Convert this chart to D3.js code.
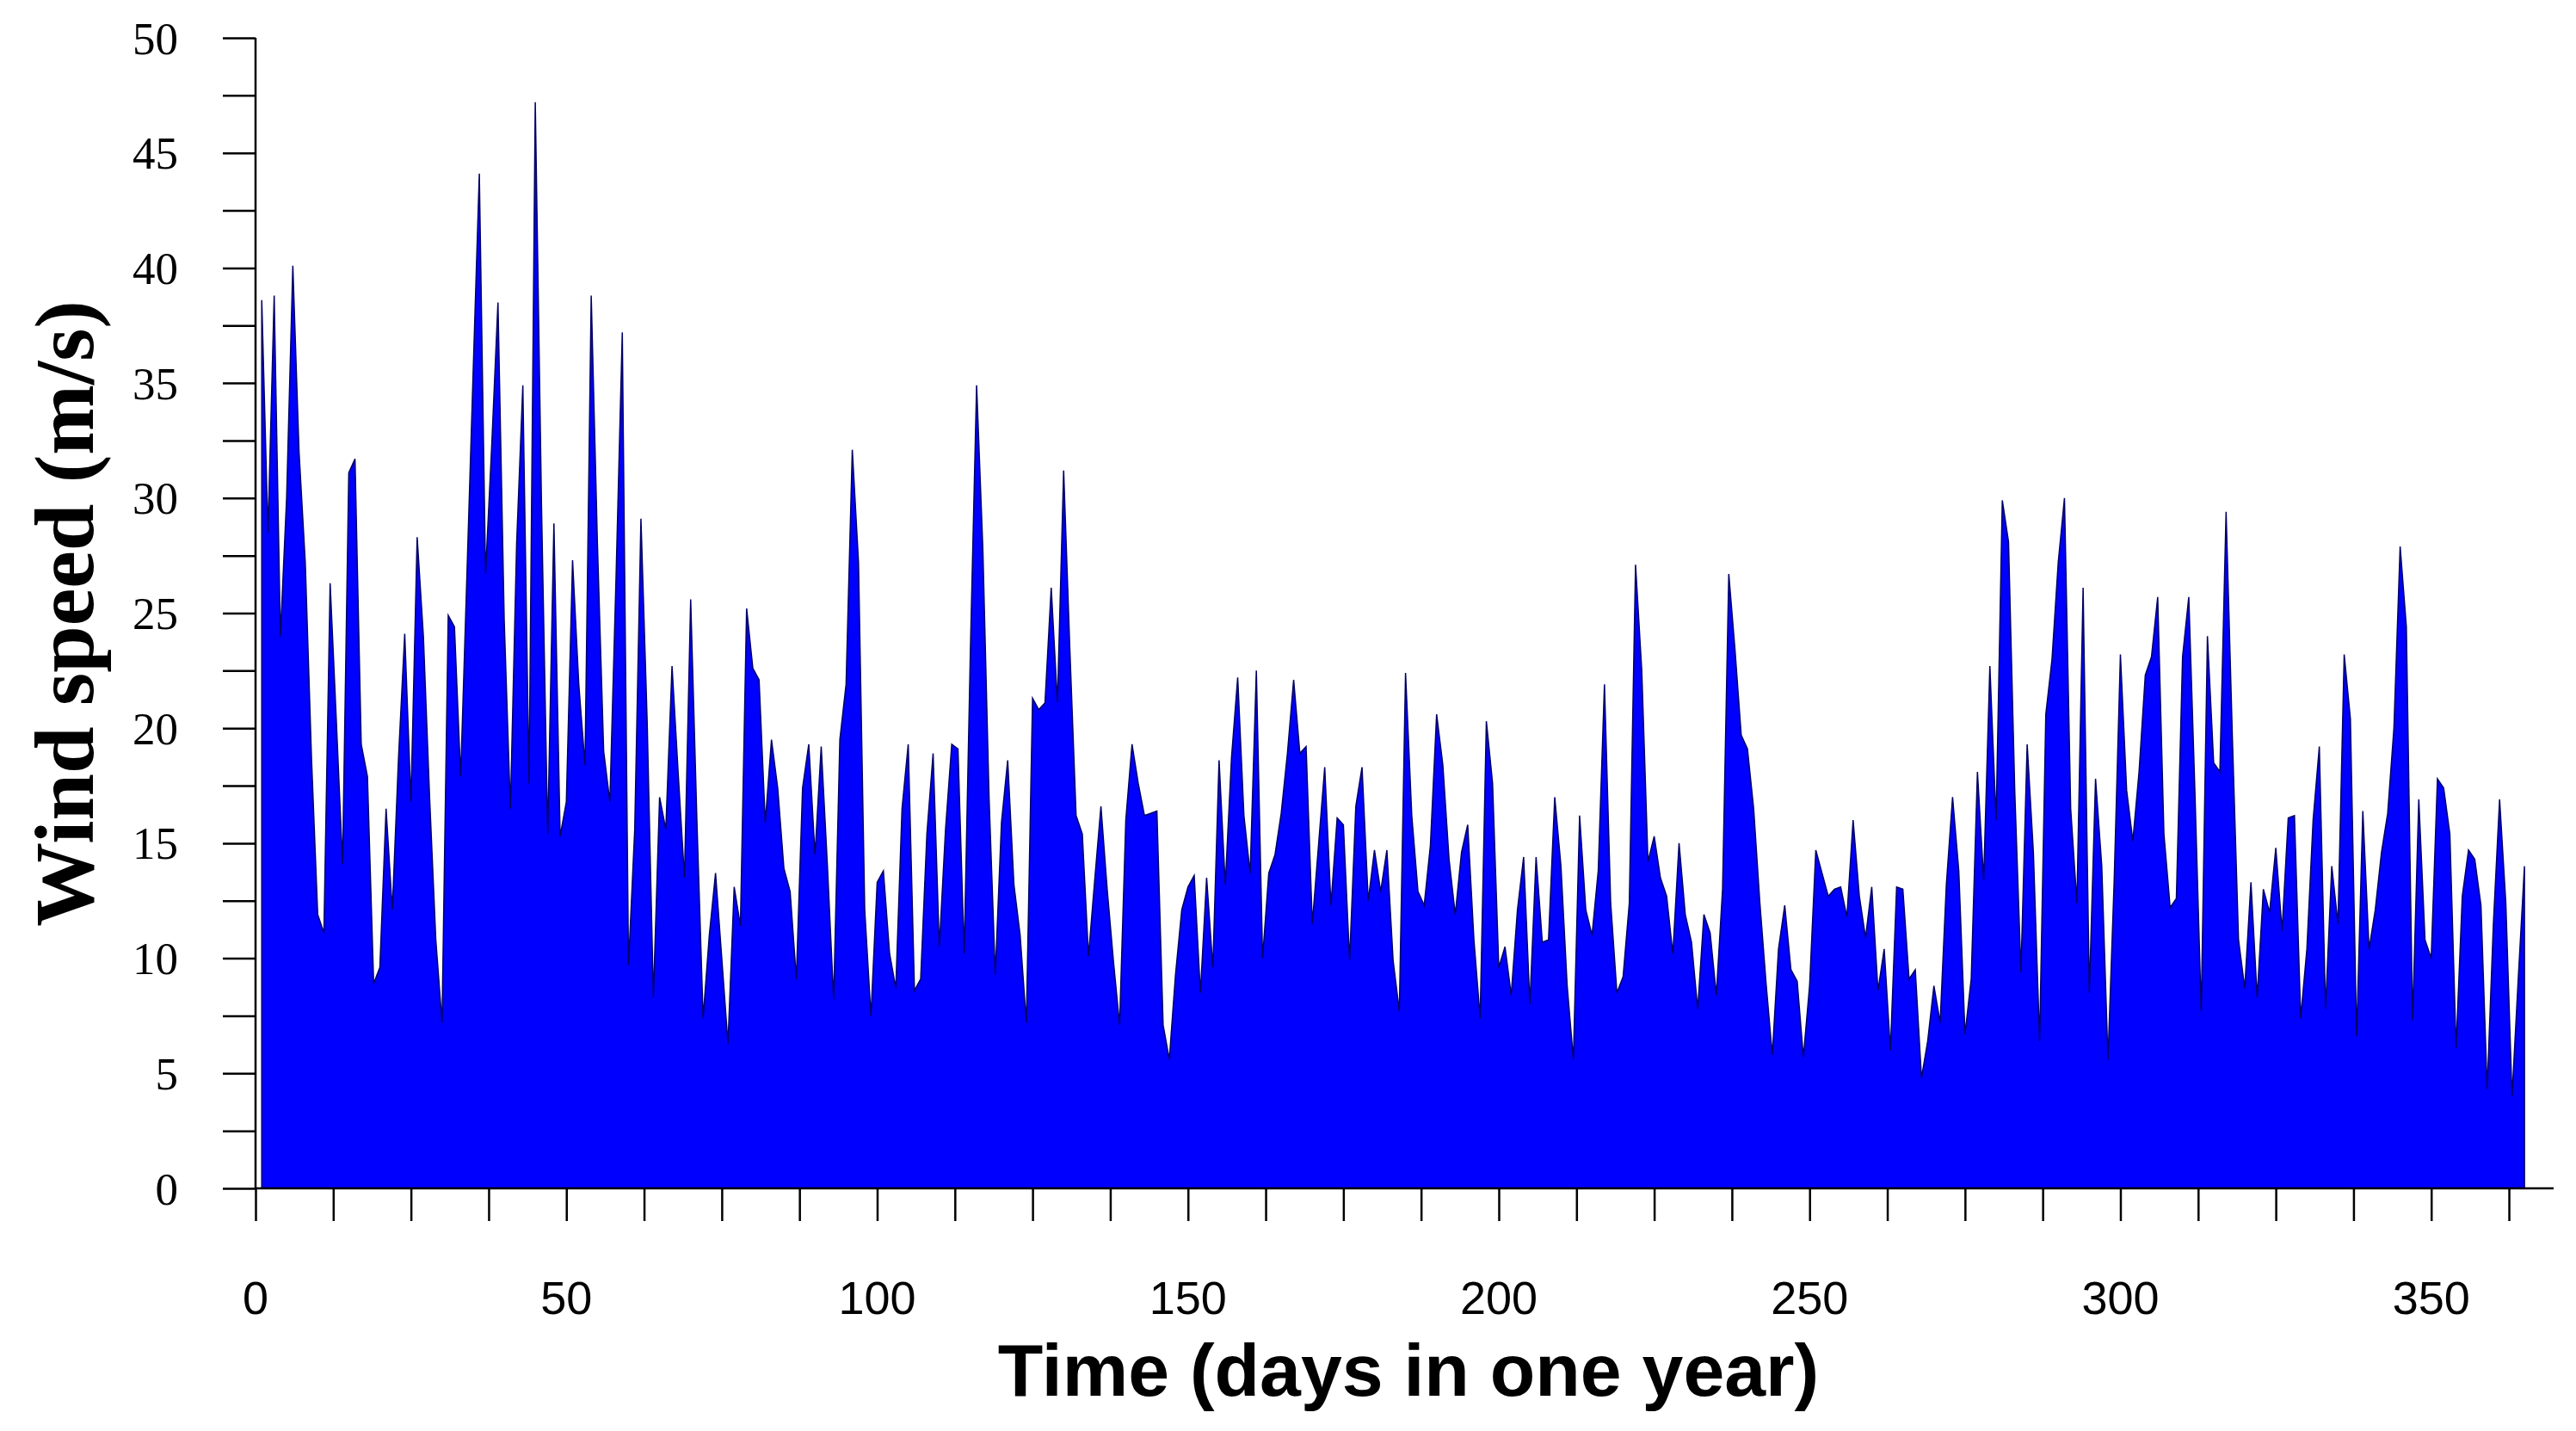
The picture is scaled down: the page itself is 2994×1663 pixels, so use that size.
<!DOCTYPE html>
<html><head><meta charset="utf-8">
<script src="https://cdn.jsdelivr.net/npm/d3@7/dist/d3.min.js"></script>
<style>body{margin:0;background:#fff}</style></head>
<body><svg id="c" width="2994" height="1663"></svg>
<script>
const startDay = 1;
const windSpeed = [
38.6,28.5,38.8,24.0,30,40.1,32,27.2,18.7,11.9,11.1,26.3,20.3,14.1,31.1,31.7,19.3,17.9,8.9,9.6,
16.5,12.1,18.7,24.1,16.8,28.3,24,17,10.8,7.2,24.9,24.4,17.9,26.6,35.4,44.1,26.7,32.3,38.5,24.7,
16.5,28,34.9,17.6,47.2,29.7,15.4,28.9,15.3,16.8,27.3,21.9,18.4,38.8,28,19,16.8,26.6,37.2,9.7,
15.6,29.1,20.3,8.3,17.0,15.6,22.7,18,13.5,25.6,16,7.4,11,13.7,10,6.3,13.1,11.4,25.2,22.6,
22.1,15.9,19.5,17.4,13.9,12.9,9.1,17.4,19.3,14.5,19.2,14.0,8.2,19.5,21.9,32.1,27.2,12.1,7.5,13.3,
13.8,10.2,8.7,16.5,19.3,8.6,9.1,15.4,18.9,10.5,15.6,19.3,19.1,10.2,23.4,34.9,27.8,17.0,9.3,15.9,
18.6,13.2,11.0,7.2,21.3,20.8,21.1,26.1,21.1,31.2,23.4,16.2,15.4,10.1,13.4,16.6,13.0,9.9,7.1,16.0,
19.3,17.6,16.2,16.3,16.4,7.1,5.6,9.3,12.1,13.1,13.6,8.5,13.5,9.6,18.6,13.2,18.7,22.2,16.2,13.7,
22.5,10.0,13.7,14.5,16.3,18.9,22.1,18.9,19.2,11.5,14.9,18.3,12.3,16.1,15.8,9.9,16.6,18.3,12.5,14.7,
12.9,14.7,9.9,7.7,22.4,16.2,12.9,12.3,14.9,20.6,18.4,14.3,11.9,14.6,15.8,10.8,7.4,20.3,17.6,9.6,
10.5,8.4,12.1,14.4,8.0,14.4,10.7,10.8,17.0,14.0,8.8,5.6,16.2,12.1,11.0,13.8,21.9,12.4,8.5,9.2,
12.4,27.1,22.5,14.2,15.3,13.5,12.7,10.2,15.0,11.9,10.7,7.8,11.9,11.1,8.4,13.0,26.7,23.4,19.7,19.1,
16.5,12.4,8.9,5.8,10.4,12.3,9.5,9.0,5.7,8.8,14.7,13.7,12.7,13.0,13.1,11.8,16.0,12.7,10.9,13.1,
8.6,10.4,6.0,13.1,13.0,9.1,9.5,4.8,6.4,8.8,7.2,13.2,17.0,13.8,6.7,9.1,18.1,13.4,22.7,16.0,
29.9,28.1,17.3,9.4,19.3,14.6,6.4,20.6,23.0,27.2,30.0,16.5,12.4,26.1,8.5,17.8,14.0,5.6,13.4,23.2,
17.3,15.1,18.1,22.3,23.1,25.7,15.4,12.2,12.6,23.1,25.7,17.1,7.7,24.0,18.5,18.1,29.4,19.7,10.8,8.7,
13.3,8.3,13.0,12.0,14.8,11.2,16.1,16.2,7.4,10.4,16.0,19.2,7.8,14.0,11.5,23.2,20.4,6.6,16.4,10.4,
12.1,14.6,16.3,20.0,27.9,24.4,7.3,16.9,10.8,10.0,17.8,17.4,15.4,6.1,12.7,14.7,14.3,12.3,4.3,11.5,
16.9,12.4,4.0,9.1,14.0
];
const xTickLabels = [0,50,100,150,200,250,300,350];
const yTickLabels = [0,5,10,15,20,25,30,35,40,45,50];
const xTitle = "Time (days in one year)";
const yTitle = "Wind speed (m/s)";

const svg = d3.select("#c");
const x = d3.scaleLinear().domain([0,369]).range([297,2963]);
const y = d3.scaleLinear().domain([0,50]).range([1381,44]);
const data = windSpeed.map((v,i)=>({d:startDay+i,v}));

svg.append("path").datum(data)
  .attr("d", d3.area().x(p=>x(p.d)).y0(y(0)).y1(p=>y(p.v)))
  .attr("fill","#0000ff").attr("stroke","#000066").attr("stroke-width",1.5);

const xMinor = d3.range(0,369,12.5);
const gx = svg.append("g").attr("transform",`translate(0,${y(0)})`);
gx.call(d3.axisBottom(x).tickValues(xMinor).tickSize(38).tickFormat(""));
gx.select(".domain").attr("d",`M${x(0)},0H2968`);
gx.selectAll("line,path").attr("stroke","#000").attr("stroke-width",2.5);
svg.append("g").selectAll("text").data(xTickLabels).join("text")
  .attr("x",d=>x(d)).attr("y",1527).attr("text-anchor","middle")
  .attr("font-family","Liberation Sans, Arial").attr("font-size",54).text(d=>d);

const gy = svg.append("g").attr("transform",`translate(${x(0)},0)`);
gy.call(d3.axisLeft(y).tickValues(d3.range(0,50.01,2.5)).tickSize(38).tickFormat(""));
gy.select(".domain").attr("d",`M0,${y(0)}V${y(50)}`);
gy.selectAll("line,path").attr("stroke","#000").attr("stroke-width",2.5);
svg.append("g").selectAll("text").data(yTickLabels).join("text")
  .attr("x",207).attr("y",d=>y(d)).attr("dy","0.35em").attr("text-anchor","end")
  .attr("font-family","Liberation Serif, Times New Roman").attr("font-size",53).text(d=>d);

svg.append("text").attr("x",1637).attr("y",1622).attr("text-anchor","middle")
  .attr("font-family","Liberation Sans, Arial").attr("font-weight","bold").attr("font-size",86).text(xTitle);
svg.append("text").attr("transform","translate(108,713) rotate(-90)").attr("text-anchor","middle")
  .attr("font-family","Liberation Serif, Times New Roman").attr("font-weight","bold").attr("font-size",98).text(yTitle);
</script></body></html>
